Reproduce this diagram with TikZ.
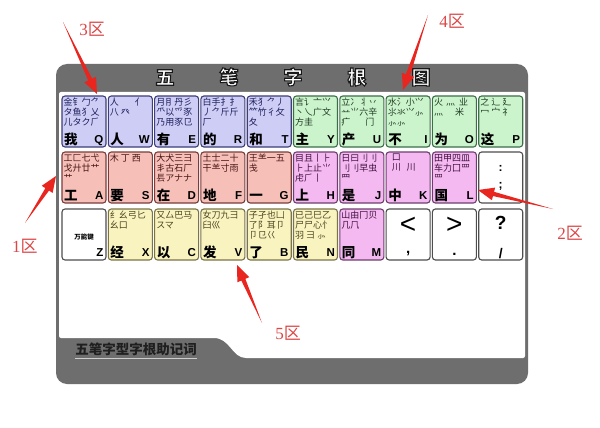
\documentclass[tikz,border=0pt]{standalone}
\usepackage{fontspec}
\newfontfamily\cjk{Noto Sans CJK SC}
\newfontfamily\lat{Liberation Sans}
\newfontfamily\ser{Liberation Serif}
\usetikzlibrary{calc}
\definecolor{framegrey}{HTML}{6E6E6E}
\definecolor{zbfill}{HTML}{CDCDF6}\definecolor{zbline}{HTML}{3E3E78}\definecolor{zbtext}{HTML}{1E1E5A}
\definecolor{zgfill}{HTML}{CCF4CC}\definecolor{zgline}{HTML}{3C6E48}\definecolor{zgtext}{HTML}{1E3A22}
\definecolor{zrfill}{HTML}{F6C0B9}\definecolor{zrline}{HTML}{7A3C3A}\definecolor{zrtext}{HTML}{4A1414}
\definecolor{zmfill}{HTML}{F5B9F2}\definecolor{zmline}{HTML}{6E3E6E}\definecolor{zmtext}{HTML}{3C103C}
\definecolor{zyfill}{HTML}{F9F3C0}\definecolor{zyline}{HTML}{7A7448}\definecolor{zytext}{HTML}{4A4420}
\definecolor{zwfill}{HTML}{FFFFFF}\definecolor{zwline}{HTML}{4E4E4E}\definecolor{zwtext}{HTML}{000000}
\definecolor{arrowred}{HTML}{E8261F}
\definecolor{annred}{HTML}{DC4646}
\tikzset{
  keybox/.style={draw, rounded corners=3pt, line width=1.1pt, minimum width=44pt, minimum height=51pt, inner sep=0pt},
  radtext/.style={inner sep=0pt, align=left, font=\cjk\fontsize{9}{10}\selectfont},
  maintext/.style={inner sep=0pt, font=\cjk\bfseries\fontsize{13.5}{13.5}\selectfont, text=black},
  lettext/.style={inner sep=0pt, font=\lat\bfseries\fontsize{11.5}{11.5}\selectfont, text=black},
  punct/.style={inner sep=0pt, font=\lat\bfseries\fontsize{12}{12}\selectfont, text=black},
  anntext/.style={inner sep=0pt, text=annred, font=\fontsize{17}{17}\selectfont},
}
\newcommand\wkey[7]{%
  \node[keybox, fill=#4fill, draw=#4line] (k#1) at (#2+22,#3+25.5) {};
  \node[radtext, text=#4text, anchor=north west] (r#1) at ([xshift=2pt,yshift=-2.5pt]k#1.north west) {#5};
  \node[maintext, anchor=base west] (m#1) at ([xshift=2.5pt,yshift=3.5pt]k#1.south west) {#6};
  \node[lettext, anchor=base east] (l#1) at ([xshift=-3pt,yshift=4.5pt]k#1.south east) {#7};
}
\newcommand\redarrow[2]{%
  \coordinate (#2base) at ($(#2)!16pt!(#1)$);
  \fill[arrowred] (#1) -- ($(#2base)!2.2pt!90:(#2)$) -- ($(#2base)!6.5pt!90:(#2)$) -- (#2)
     -- ($(#2base)!6.5pt!-90:(#2)$) -- ($(#2base)!2.2pt!-90:(#2)$) -- cycle;
}
\begin{document}
\begin{tikzpicture}[x=1pt,y=-1pt]
\useasboundingbox (0,0) rectangle (600,428);
\fill[white] (0,0) rectangle (600,428);
% frame
\fill[framegrey, rounded corners=11pt] (56,64) rectangle (528,384);
\fill[white, rounded corners=2pt] (59,92) -- (525,92) -- (525,358) -- (248,358)
   .. controls (232,358) and (230,338) .. (212,338) -- (59,338) -- cycle;
% title
\node[inner sep=0pt, text=white, font=\cjk\bfseries\fontsize{19}{19}\selectfont] (title) at (293,77)
  {\special{pdf:literal direct 0.1 0.1 0.1 RG 1.1 w 2 Tr}五\hspace{45pt}笔\hspace{45pt}字\hspace{45pt}根\hspace{45pt}图\special{pdf:literal direct 0 Tr}};
% row 1
\wkey{Q}{62}{96}{zb}{金钅勹⺈\\タ鱼犭乂\\儿タク⺁}{我}{Q}
\wkey{W}{108.3}{96}{zb}{人\hspace{16pt}亻\\八\hspace{2pt}癶}{人}{W}
\wkey{E}{154.6}{96}{zb}{月⺝丹彡\\⺥以爫豕\\乃用豕⺋}{有}{E}
\wkey{R}{200.9}{96}{zb}{白手⺘扌\\丿⺈斤斤\\厂}{的}{R}
\wkey{T}{247.2}{96}{zb}{禾⺨⺈丿\\⺮竹彳攵\\夂}{和}{T}
\wkey{Y}{293.5}{96}{zg}{言讠亠⺍\\丶乀广文\\方圭}{主}{Y}
\wkey{U}{339.8}{96}{zg}{立冫丬丷\\䒑⺌六辛\\疒\hspace{15pt}门}{产}{U}
\wkey{I}{386.1}{96}{zg}{水氵小⺍\\⺢氺⺍⺗\\⺗⺗}{不}{I}
\wkey{O}{432.4}{96}{zg}{火\hspace{3pt}⺣\hspace{4pt}业\\⺣\hspace{12pt}米}{为}{O}
\wkey{P}{478.7}{96}{zg}{之\hspace{2pt}辶\hspace{2pt}廴\\冖\hspace{2pt}宀\hspace{2pt}礻}{这}{P}
% row 2
\wkey{A}{62}{152}{zr}{工匚七弋\\戈廾廿艹\\艹}{工}{A}
\wkey{S}{108.3}{152}{zr}{木\hspace{2pt}丁\hspace{2pt}西}{要}{S}
\wkey{D}{154.6}{152}{zr}{大犬三⺕\\丯古石厂\\镸アナナ}{在}{D}
\wkey{F}{200.9}{152}{zr}{土士二十\\干⺷寸雨}{地}{F}
\wkey{G}{247.2}{152}{zr}{王⺷一五\\戋}{一}{G}
\wkey{H}{293.5}{152}{zm}{目且丨⺊\\⺊上止⺌\\虍⺁丨}{上}{H}
\wkey{J}{339.8}{152}{zm}{日曰刂刂\\刂刂早虫\\⺫}{是}{J}
\wkey{K}{386.1}{152}{zm}{\hspace*{4pt}口\\\hspace*{4pt}川\hspace{6pt}川}{中}{K}
\wkey{L}{432.4}{152}{zm}{田甲四皿\\车力囗罒\\罒}{国}{L}
\node[keybox, fill=zwfill, draw=zwline] (ksemi) at (500.7,177.5) {};
\node[punct] (semitop) at (500.7,168) {:};
\node[punct] (semibot) at (500.7,186) {;};
% row 3
\node[keybox, fill=zwfill, draw=zwline] (kZ) at (84,234.5) {};
\node[inner sep=0pt, font=\cjk\bfseries\fontsize{6.5}{6.5}\selectfont] (zname) at (84,237) {万能键};
\node[lettext, anchor=base east] (lZ) at ([xshift=-3pt,yshift=4.5pt]kZ.south east) {Z};
\wkey{X}{108.3}{209}{zy}{纟幺弓匕\\幺口}{经}{X}
\wkey{C}{154.6}{209}{zy}{又厶巴马\\スマ}{以}{C}
\wkey{V}{200.9}{209}{zy}{女刀九彐\\臼巛}{发}{V}
\wkey{B}{247.2}{209}{zy}{子孑也凵\\了阝耳卩\\卩⺋巜}{了}{B}
\wkey{N}{293.5}{209}{zy}{已己巳乙\\尸尸心忄\\羽\hspace{2pt}⺕\hspace{2pt}⺗}{民}{N}
\wkey{M}{339.8}{209}{zm}{山由冂贝\\几⺇}{同}{M}
\node[keybox, fill=zwfill, draw=zwline] (kcomma) at (408.1,234.5) {};
\node[inner sep=0pt, font=\lat\fontsize{28}{28}\selectfont] (ltsym) at (408.1,225) {<};
\node[punct, font=\lat\bfseries\fontsize{15}{15}\selectfont] (commasym) at (408.1,254) {,};
\node[keybox, fill=zwfill, draw=zwline] (kperiod) at (454.4,234.5) {};
\node[inner sep=0pt, font=\lat\fontsize{28}{28}\selectfont] (gtsym) at (454.4,225) {>};
\node[punct, font=\lat\bfseries\fontsize{15}{15}\selectfont] (periodsym) at (454.4,254) {.};
\node[keybox, fill=zwfill, draw=zwline] (kslash) at (500.7,234.5) {};
\node[punct, font=\lat\bfseries\fontsize{19}{19}\selectfont] (qsym) at (500.7,223) {?};
\node[punct, font=\lat\bfseries\fontsize{14}{14}\selectfont] (slashsym) at (500.7,254) {/};
% bottom tab text
\node[inner sep=0pt, text=black!88, font=\cjk\bfseries\fontsize{13.5}{13.5}\selectfont] (tab) at (136,349) {五笔字型字根助记词};
\draw[white!80!black, line width=1pt] ([yshift=-4pt]tab.base west) -- ([yshift=-4pt]tab.base east);
% annotations
\node[anntext] (n3) at (92,29) {\ser 3\cjk 区};
\node[anntext] (n4) at (452,21) {\ser 4\cjk 区};
\node[anntext] (n1) at (25,246) {\ser 1\cjk 区};
\node[anntext] (n2) at (570,233) {\ser 2\cjk 区};
\node[anntext] (n5) at (288,333) {\ser 5\cjk 区};
\coordinate (a3t) at (63,22);   \coordinate (a3h) at (97,94);
\coordinate (a4t) at (428,15);  \coordinate (a4h) at (403,90);
\coordinate (a1t) at (25,223);  \coordinate (a1h) at (56,176);
\coordinate (a2t) at (553,209); \coordinate (a2h) at (478,190);
\coordinate (a5t) at (262,323); \coordinate (a5h) at (237,265);
\redarrow{a3t}{a3h}
\redarrow{a4t}{a4h}
\redarrow{a1t}{a1h}
\redarrow{a2t}{a2h}
\redarrow{a5t}{a5h}
\end{tikzpicture}
\end{document}
